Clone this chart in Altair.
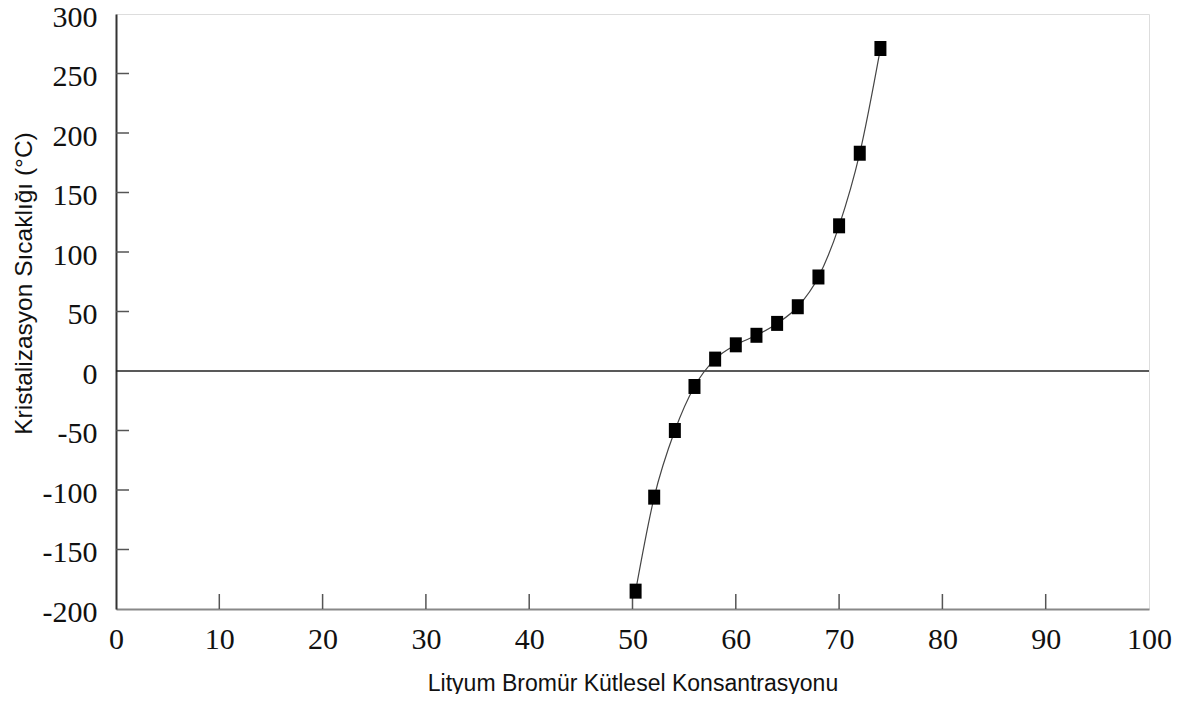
import altair as alt
import pandas as pd

# Data
konsantrasyon = [50.3, 52.1, 54.1, 56.0, 58.0, 60.0, 62.0, 64.0, 66.0, 68.0, 70.0, 72.0, 74.0]
sicaklik = [-185, -106, -50, -13, 10, 22, 30, 40, 54, 79, 122, 183, 271]

x_ticks = [0, 10, 20, 30, 40, 50, 60, 70, 80, 90, 100]
y_ticks = [-200, -150, -100, -50, 0, 50, 100, 150, 200, 250, 300]
x_inner = [10, 20, 30, 40, 50, 60, 70, 80, 90]
y_inner = [-150, -100, -50, 50, 100, 150, 200, 250]

W, H = 1033, 595

df = pd.DataFrame({"x": konsantrasyon, "y": sicaklik})
xs = alt.Scale(domain=[0, 100], nice=False)
ys = alt.Scale(domain=[-200, 300], nice=False)

label_font = "Liberation Serif"
title_font = "Liberation Sans"

x_axis = alt.Axis(
    values=x_ticks, ticks=False, grid=False, labelFont=label_font, labelFontSize=30,
    labelColor="#111", labelPadding=15, domainColor="#888", domainWidth=2,
    labelExpr="toString(datum.value)",
    title="Lityum Bromür Kütlesel Konsantrasyonu", titleFont=title_font,
    titleFontSize=23, titleFontWeight="normal", titleColor="#111",
    titleY=74, titleBaseline="middle", labelFlush=False, labelOverlap=False,
)
y_axis = alt.Axis(
    values=y_ticks, ticks=False, grid=False, labelFont=label_font, labelFontSize=30,
    labelColor="#111", labelPadding=19, domainColor="#333", domainWidth=2,
    labelExpr="toString(datum.value)", labelOffset=3,
    title="Kristalizasyon Sıcaklığı (°C)", titleFont=title_font,
    titleFontSize=24.5, titleFontWeight="normal", titleColor="#111",
    titleX=-92, titleY=269, titleBaseline="middle", titleAlign="center",
    labelFlush=False, labelOverlap=False,
)

base = alt.Chart(df)

line = base.mark_line(interpolate="monotone", color="#444", strokeWidth=1.2).encode(
    x=alt.X("x:Q", scale=xs, axis=x_axis),
    y=alt.Y("y:Q", scale=ys, axis=y_axis),
)

points = base.mark_point(
    shape="M-0.8,-1H0.8V1H-0.8Z", filled=True, color="black", opacity=1, size=225
).encode(x=alt.X("x:Q", scale=xs), y=alt.Y("y:Q", scale=ys))

zero = alt.Chart(pd.DataFrame({"z": [0]})).mark_rule(color="#222", strokeWidth=1.6).encode(
    y=alt.Y("z:Q", scale=ys), x=alt.value(0), x2=alt.value(W)
)

xt = alt.Chart(pd.DataFrame({"v": x_inner})).mark_rule(color="#555", strokeWidth=1.5).encode(
    x=alt.X("v:Q", scale=xs), y=alt.value(H), y2=alt.value(H - 15)
)
yt = alt.Chart(pd.DataFrame({"v": y_inner})).mark_rule(color="#555", strokeWidth=1.5).encode(
    y=alt.Y("v:Q", scale=ys), x=alt.value(0), x2=alt.value(13)
)

chart = alt.layer(zero, xt, yt, line, points).properties(
    width=W, height=H,
    autosize=alt.AutoSizeParams(type="none"),
    padding={"left": 108, "top": 6, "right": 25, "bottom": 85},
).configure_view(stroke="#aaa", strokeWidth=2).configure(background="white")

chart.save("out.html", embed_options={"renderer": "svg", "actions": False})
